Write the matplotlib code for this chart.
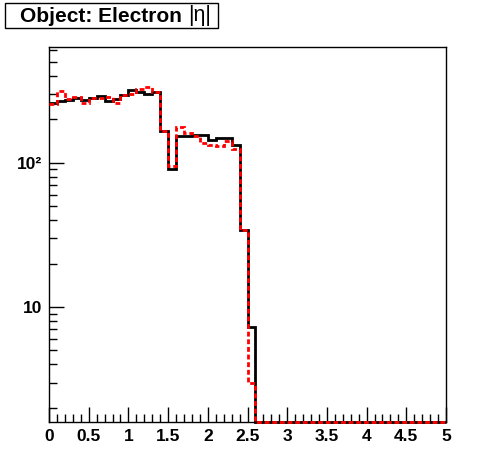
import numpy as np
import matplotlib
matplotlib.use("Agg")
import matplotlib.pyplot as plt
from matplotlib.patches import Rectangle
from matplotlib.ticker import FixedLocator, LogLocator, NullFormatter, FixedFormatter, MultipleLocator

# |eta| histogram, 50 bins of 0.1 from 0 to 5
edges = np.linspace(0, 5, 51)
black = [258, 267, 272, 280, 270, 280, 290, 267, 277, 293,
         316, 308, 297, 308, 165, 90, 153, 153, 155, 155,
         143, 147, 147, 133, 34, 7.3] + [0] * 24
red = [253, 313, 277, 284, 260, 281, 281, 284, 258, 292,
       300, 321, 333, 308, 165, 95, 176, 160, 153, 136,
       132, 131, 141, 124, 34, 3.0] + [0] * 24
xticks = np.arange(0, 5.01, 0.5)
xlabels = ['0', '0.5', '1', '1.5', '2', '2.5', '3', '3.5', '4', '4.5', '5']

ymin, ymax = 1.6, 630

plt.rcParams['font.family'] = ['Liberation Sans', 'DejaVu Sans']

fig = plt.figure(figsize=(4.96, 4.72), dpi=100)
ax = fig.add_axes([49/496, 1 - 422/472, 397/496, 375/472])

# zero bins sit on the lower edge, like ROOT does on a log axis
ax.stairs(np.maximum(black, ymin), edges, baseline=None, color='black', lw=2,
          clip_on=False, zorder=3)
ax.stairs(np.maximum(red, ymin), edges, baseline=None, color='red', lw=2,
          linestyle=(0, (1.75, 1.0)), clip_on=False, zorder=4)

ax.set_yscale('log')
ax.set_xlim(0, 5)
ax.set_ylim(ymin, ymax)

ax.xaxis.set_major_locator(FixedLocator(xticks))
ax.xaxis.set_major_formatter(FixedFormatter(xlabels))
ax.xaxis.set_minor_locator(MultipleLocator(0.1))

ax.yaxis.set_major_locator(FixedLocator([10, 100]))
ax.yaxis.set_major_formatter(FixedFormatter(['10', '10²']))
ax.yaxis.set_minor_locator(LogLocator(base=10, subs=np.arange(2, 10)))
ax.yaxis.set_minor_formatter(NullFormatter())

ax.tick_params(which='both', direction='in', width=1, color='black',
               top=False, right=False)
ax.tick_params(which='major', length=11, labelsize=12.5, pad=5)
ax.tick_params(which='minor', length=6)
for lab in ax.get_xticklabels() + ax.get_yticklabels():
    lab.set_fontweight('bold')
for s in ax.spines.values():
    s.set_linewidth(1)

# title box, ROOT style
fig.patches.append(Rectangle((5/496, 1 - 28/472), 213/496, 25/472,
                             transform=fig.transFigure, fc='white', ec='black', lw=1))
t1 = fig.text(20/496, 1 - 16/472, 'Object: Electron ', ha='left', va='center',
              fontsize=15, fontweight='bold')
fig.canvas.draw()
bb = t1.get_window_extent()
fig.text(bb.x1 / 496, 1 - 16/472, '|η|', ha='left', va='center',
         fontsize=15.5, fontweight='normal')

fig.savefig('out.png', dpi=100)
